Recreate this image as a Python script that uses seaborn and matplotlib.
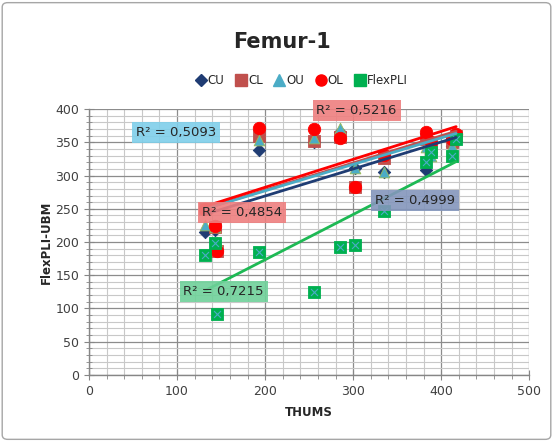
import numpy as np
import pandas as pd
import seaborn as sns
import matplotlib.pyplot as plt
from matplotlib.patches import FancyBboxPatch
from matplotlib.lines import Line2D
from matplotlib.ticker import MultipleLocator

# ---- data ----
series_names = ["CU", "CL", "OU", "OL", "FlexPLI"]
thums_x = [132, 143, 145, 193, 255, 285, 302, 335, 383, 388, 412, 417]
cu_y = [215, 218, 190, 339, 350, 365, 312, 305, 308, 335, 345, 352]
cl_y = [250, 222, 186, 360, 352, 358, 283, 326, 355, 340, 350, 360]
ou_y = [225, 222, 200, 353, 356, 371, 311, 305, 343, 330, 345, 358]
ol_y = [250, 224, 186, 371, 370, 357, 283, 331, 366, 350, 355, 362]
flex_y = [180, 198, 92, 185, 124, 193, 196, 246, 320, 335, 330, 355]
r2_labels = ["0,4999", "0,4854", "0,5093", "0,5216", "0,7215"]
x_ticks = [0, 100, 200, 300, 400, 500]
y_ticks = [0, 50, 100, 150, 200, 250, 300, 350, 400]

colors = {"CU": "#1F3C73", "CL": "#C0504D", "OU": "#4BACC6", "OL": "#FF0000", "FlexPLI": "#00B050"}
markers = {"CU": "D", "CL": "s", "OU": "^", "OL": "o", "FlexPLI": "s"}
sizes = {"CU": 40, "CL": 70, "OU": 60, "OL": 80, "FlexPLI": 70}
line_colors = {"CU": "#1F3C73", "CL": "#C0504D", "OU": "#4BACC6", "OL": "#FF0000", "FlexPLI": "#1DB954"}
box_colors = {"CU": "#8496BC", "CL": "#EE7F7F", "OU": "#7FCFEA", "OL": "#EE7F7F", "FlexPLI": "#6FD19A"}
label_pos = {"CU": (370, 263), "CL": (174, 244), "OU": (99, 365), "OL": (304, 398), "FlexPLI": (153, 126)}

frames = []
for name, ys in [("CU", cu_y), ("CL", cl_y), ("OU", ou_y), ("OL", ol_y), ("FlexPLI", flex_y)]:
    frames.append(pd.DataFrame({"THUMS": thums_x, "UBM": ys, "series": name}))
df = pd.concat(frames, ignore_index=True)

sns.set_style("white")
plt.rcParams['font.family'] = ['DejaVu Sans']

fig = plt.figure(figsize=(5.53, 4.42), dpi=100)
ax = fig.add_axes([0.161, 0.152, 0.796, 0.601])

# outer chart border
fig.patches.append(FancyBboxPatch((0.004, 0.006), 0.992, 0.988, boxstyle="round,pad=0,rounding_size=0.01",
                                  transform=fig.transFigure, fill=False, edgecolor="#A6A6A6", lw=1.0))

# scatter markers
for name in series_names:
    sub = df[df.series == name]
    sns.scatterplot(data=sub, x="THUMS", y="UBM", ax=ax, marker=markers[name], s=sizes[name],
                    color=colors[name], edgecolor=colors[name] if name != "OU" else "#9BBB59",
                    linewidth=0.6, legend=False, zorder=3)
    if name == "FlexPLI":
        sns.scatterplot(data=sub, x="THUMS", y="UBM", ax=ax, marker="x", s=25, color="#4BACC6",
                        linewidth=0.8, legend=False, zorder=3.1)

# trend lines
for name in ["CL", "CU", "OU", "OL", "FlexPLI"]:
    sub = df[df.series == name]
    sns.regplot(data=sub, x="THUMS", y="UBM", ax=ax, scatter=False, ci=None, truncate=True,
                line_kws=dict(color=line_colors[name], lw=2.0, zorder=4))

# R² labels
for name, lab in zip(["CU", "CL", "OU", "OL", "FlexPLI"], r2_labels):
    x, y = label_pos[name]
    ax.text(x, y, "R² = " + lab, ha="center", va="center", fontsize=9.5, color="#262626", zorder=6,
            bbox=dict(boxstyle="square,pad=0.3", facecolor=box_colors[name], edgecolor="none", alpha=0.9))

ax.set_xlim(0, 500)
ax.set_ylim(0, 400)
ax.set_xticks(x_ticks)
ax.set_yticks(y_ticks)
ax.xaxis.set_minor_locator(MultipleLocator(20))
ax.yaxis.set_minor_locator(MultipleLocator(10))
ax.grid(which="major", color="#8C8C8C", lw=0.9)
ax.grid(which="minor", color="#C8C8C8", lw=0.8)
ax.set_axisbelow(True)
for s in ["top", "right"]:
    ax.spines[s].set_visible(False)
for s in ["left", "bottom"]:
    ax.spines[s].set_color("#868686")
    ax.spines[s].set_linewidth(1.0)
ax.tick_params(which="major", direction="inout", length=7, color="#868686", labelsize=9,
               labelcolor="#404040", left=True, bottom=True)
ax.tick_params(which="minor", direction="out", length=3, color="#868686", left=True, bottom=True)
ax.tick_params(axis="y", which="minor", direction="inout", length=5)
ax.set_xlabel("THUMS", fontsize=8.5, fontweight="bold", labelpad=6)
ax.set_ylabel("FlexPLI-UBM", fontsize=8.5, fontweight="bold", labelpad=2)

fig.text(0.51, 0.905, "Femur-1", ha="center", va="center", fontsize=15, fontweight="bold")

handles = [Line2D([], [], linestyle="none", marker=markers[n], color=colors[n],
                  markersize={"CU": 6, "CL": 8, "OU": 8, "OL": 8, "FlexPLI": 8}[n]) for n in series_names]
fig.legend(handles, series_names, loc="center", bbox_to_anchor=(0.545, 0.818), ncol=5, frameon=False,
           fontsize=8.5, handletextpad=0.1, columnspacing=0.9, handlelength=1.0)

fig.savefig("out.png", dpi=100)
